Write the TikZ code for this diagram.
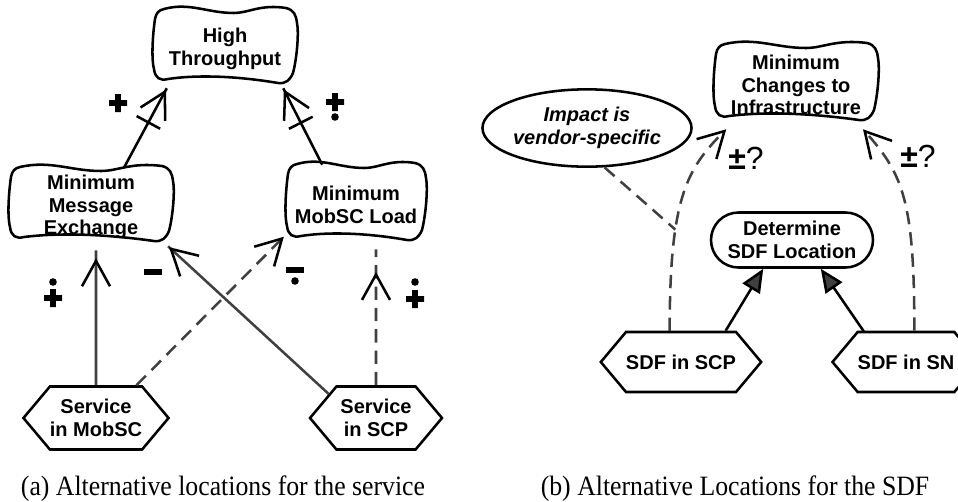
\documentclass[tikz,border=0pt]{standalone}
\usepackage{fontspec}
\setmainfont{Liberation Serif}[FakeStretch=0.92]
\setsansfont{Liberation Sans}
\usetikzlibrary{arrows.meta,shapes.geometric,shapes.misc,shapes.symbols,decorations.markings}

\definecolor{linegray}{RGB}{64,64,64}

\tikzset{every picture/.style={line width=1.9pt}}
\tikzset{
  nodetext/.style={align=center, inner sep=0pt, font=\sffamily\bfseries\fontsize{15}{17}\selectfont},
  task/.style={nodetext, draw, signal, signal to=east and west, signal pointer angle=100},
  dashline/.style={linegray, dash pattern=on 10pt off 6pt},
  greyline/.style={linegray},
  barb/.style={postaction={decorate, decoration={markings,
      mark=at position #1 with {\arrow{Straight Barb[length=19pt,width=21pt,color=black]}}}}},
  crossed/.style={postaction={decorate, decoration={markings,
      mark=at position -29pt with {\draw[solid] (0,-10pt) -- (0,10pt);}}}},
  solidtip/.style={-{Triangle[length=17.5pt,width=15pt,fill=linegray]}},
  pics/plusmark/.style={code={\fill (-9,-2.8) rectangle (9,2.8) (-2.8,-9) rectangle (2.8,9);}},
  pics/minusmark/.style={code={\fill (-9,-3) rectangle (9,3);}},
}

% wavy outline round a softgoal node: name, half width, half height
\newcommand{\cloudoutline}[3]{%
  \begin{scope}[shift={(#1.center)}, shift={(0,-4)}]
    \draw (-#2+10,-#3+2)
      .. controls (-#2/2,-#3-5) and (-#2/4,-#3+6) .. (#2/8,-#3+6)
      .. controls (#2/3,-#3+6) and (#2/2,-#3-3) .. (#2-10,-#3+1)
      .. controls (#2-2,-#3+3) and (#2,-#3+8) .. (#2+1,-#3+16)
      .. controls (#2+3,-#3/3) and (#2+1,#3/3) .. (#2-3,#3-10)
      .. controls (#2-6,#3-3) and (#2-10,#3+1) .. (#2-18,#3)
      .. controls (#2/4,#3-6) and (-#2/3,#3-9) .. (-#2+14,#3-4)
      .. controls (-#2+6,#3-2) and (-#2+1,#3-5) .. (-#2,#3-14)
      .. controls (-#2-3,#3/3) and (-#2-1,-#3/3) .. (-#2+1,-#3+12)
      .. controls (-#2+2,-#3+6) and (-#2+5,-#3+3) .. cycle;
  \end{scope}}

\begin{document}
\begin{tikzpicture}[x=0.75pt, y=0.75pt, yscale=-1, xscale=1]
\useasboundingbox (0,0) rectangle (958,501);

% (a) service location
\draw (225,49) node (ht) [nodetext, minimum width=106pt, minimum height=57pt] {High\\Throughput};
\cloudoutline{ht}{71}{38}
\draw (91,207) node (mme) [nodetext, minimum width=121.5pt, minimum height=57pt] {Minimum\\Message\\Exchange};
\cloudoutline{mme}{81}{38}
\draw (356,205) node (mml) [nodetext, minimum width=103.5pt, minimum height=58.5pt] {Minimum\\MobSC Load};
\cloudoutline{mml}{69}{39}

\draw (96,418) node (smobsc) [task, minimum width=99pt, minimum height=47.25pt] {Service\\in MobSC};
\draw (376,418) node (scp) [task, minimum width=99pt, minimum height=47.25pt] {Service\\in SCP};

\draw [crossed, barb=-1pt] (mme.50) -- (ht.214);
\draw [crossed, barb=-1pt] (mml.130) -- (ht.326);
\draw [greyline, barb=-6pt] (smobsc) -- ([yshift=3pt]smobsc |- mme.south);
\draw [greyline, barb=-1pt] (scp.153) -- (mme.333);
\draw [dashline, barb=-2pt] (smobsc.39) -- (mml.203);
\draw [dashline, barb=-17pt] (scp) -- ([yshift=3pt]scp |- mml.south);

\pic at (118,103) {plusmark};
\pic at (335,102) {plusmark}; \fill (335,117) circle (3.8);
\pic at (53,298) {plusmark}; \fill (53,282) circle (3.8);
\pic at (153,272) {minusmark};
\pic at (295,270) {minusmark}; \fill (295,281) circle (3.8);
\pic at (415,299) {plusmark}; \fill (415,282) circle (3.8);

% (b) SDF location
\draw (796,85) node (mci) [nodetext, minimum width=121.5pt, minimum height=58.5pt] {Minimum\\Changes to\\Infrastructure};
\cloudoutline{mci}{81}{39}
\draw (587,128) node (impact) [nodetext, draw, ellipse, minimum width=131pt, minimum height=58pt, font=\sffamily\bfseries\itshape\fontsize{15}{17}\selectfont] {Impact is\\vendor-specific};
\draw (792,240) node (dsl) [nodetext, draw, rounded rectangle, minimum width=121.5pt, minimum height=41.25pt] {Determine\\SDF Location};

\draw (681,362) node (sdfscp) [task, minimum width=93.75pt, minimum height=45pt] {SDF in SCP};
\draw (906,362) node (sdfsn) [task, minimum width=108pt, minimum height=45pt] {SDF in SN};

\draw [dashline, -{Straight Barb[length=19pt,width=21pt,color=black]}] (sdfscp.110)
      .. controls +(0,-132) and +(-40,40) .. ([yshift=3pt]mci.210) coordinate[pos=0.33] (joint);
\draw [dashline, -{Straight Barb[length=19pt,width=21pt,color=black]}] (sdfsn.75)
      .. controls +(0,-130) and +(40,45) .. ([yshift=3pt]mci.329);
\draw [dashline] (impact.294) -- (joint);
\draw [solidtip] (sdfscp.35) -- (dsl.225);
\draw [solidtip] (sdfsn.144) -- (dsl.315);

\draw (746,169) node (pma) [anchor=base, inner sep=0pt, font=\sffamily\fontsize{24}{24}\selectfont] {\textbf{±}?};
\draw (918,167) node (pmb) [anchor=base, inner sep=0pt, font=\sffamily\fontsize{24}{24}\selectfont] {\textbf{±}?};

% captions
\draw (223,495) node (capa) [anchor=base, font=\fontsize{21}{22}\selectfont] {(a) Alternative locations for the service};
\draw (735,495) node (capb) [anchor=base, font=\fontsize{21}{22}\selectfont] {(b) Alternative Locations for the SDF};

\end{tikzpicture}
\end{document}
